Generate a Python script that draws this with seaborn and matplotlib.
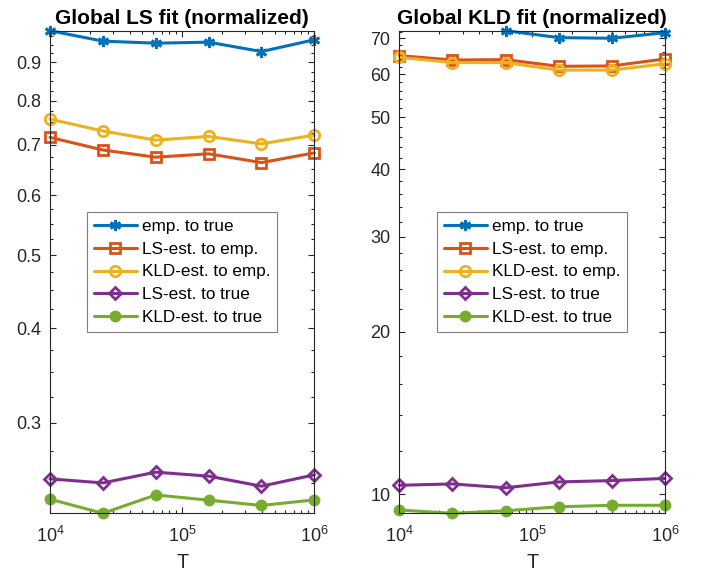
import numpy as np
import pandas as pd
import matplotlib
matplotlib.use("Agg")
import matplotlib.pyplot as plt
import matplotlib.ticker as mticker
import seaborn as sns

# sample sizes (x axis, shared by both panels)
T = [1e4, 2.512e4, 6.310e4, 1.585e5, 3.981e5, 1e6]

series_names = ["emp. to true", "LS-est. to emp.", "KLD-est. to emp.",
                "LS-est. to true", "KLD-est. to true"]

# left panel: global LS fit (normalized)
ls_emp_true = [0.991, 0.960, 0.954, 0.957, 0.930, 0.964]
ls_lsest_emp = [0.716, 0.689, 0.674, 0.681, 0.663, 0.683]
ls_kldest_emp = [0.757, 0.730, 0.710, 0.718, 0.702, 0.721]
ls_lsest_true = [0.2529, 0.2498, 0.2581, 0.2550, 0.2473, 0.2560]
ls_kldest_true = [0.2377, 0.2277, 0.2408, 0.2370, 0.2332, 0.2372]

# right panel: global KLD fit (normalized); first two emp. values are infinite
kld_emp_true = [np.nan, np.nan, 72.3, 70.2, 70.0, 71.7]
kld_lsest_emp = [65.0, 63.8, 63.9, 62.1, 62.2, 64.1]
kld_kldest_emp = [64.5, 63.1, 63.1, 61.1, 61.1, 62.8]
kld_lsest_true = [10.38, 10.44, 10.27, 10.53, 10.59, 10.69]
kld_kldest_true = [9.34, 9.21, 9.31, 9.47, 9.53, 9.53]

colors = ["#0072BD", "#D95319", "#EDB120", "#7E2F8E", "#77AC30"]
markers = [(6, 2, 0), "s", "o", "D", "o"]
msizes = [8, 6.5, 7.5, 6.2, 6.5]
filled = [False, False, False, False, True]

sns.set_theme(style="ticks")
plt.rcParams["font.family"] = ["Liberation Sans", "DejaVu Sans"]
plt.rcParams["mathtext.fontset"] = "custom"
plt.rcParams["mathtext.rm"] = "Liberation Sans"
plt.rcParams["mathtext.it"] = "Liberation Sans:italic"
axcol = "#262626"


def draw_panel(ax, data, title, yticks, minor_step):
    ax.set_xscale("log")
    ax.set_yscale("log")
    for name, vals, c, m, ms, f in zip(series_names, data, colors, markers, msizes, filled):
        df = pd.DataFrame({"T": T, "v": vals}).dropna()
        sns.lineplot(data=df, x="T", y="v", ax=ax, color=c, marker=m, markersize=ms,
                     markeredgewidth=2, markeredgecolor=c,
                     markerfacecolor=c if f else "none",
                     linewidth=2.2, label=name, errorbar=None, clip_on=False)
    allv = np.concatenate([np.asarray(d, dtype=float) for d in data])
    ax.set_xlim(T[0], T[-1])
    ax.set_ylim(np.nanmin(allv), np.nanmax(allv))

    ax.set_title(title, fontsize=15, fontweight="bold", color="black", pad=5)
    ax.set_xlabel("T", fontsize=14.3, color=axcol, labelpad=5)
    ax.set_ylabel("")

    ax.xaxis.set_major_locator(mticker.FixedLocator([1e4, 1e5, 1e6]))
    ax.xaxis.set_major_formatter(mticker.FixedFormatter([r"$10^4$", r"$10^5$", r"$10^6$"]))
    ax.xaxis.set_minor_locator(mticker.LogLocator(base=10, subs=np.arange(2, 10)))
    ax.xaxis.set_minor_formatter(mticker.NullFormatter())

    ax.yaxis.set_major_locator(mticker.FixedLocator(yticks))
    ax.yaxis.set_major_formatter(mticker.FixedFormatter([f"{t:g}" for t in yticks]))
    lo, hi = ax.get_ylim()
    minor = np.arange(np.floor(lo / minor_step) * minor_step, hi + minor_step, minor_step)
    ax.yaxis.set_minor_locator(mticker.FixedLocator(minor))
    ax.yaxis.set_minor_formatter(mticker.NullFormatter())

    ax.tick_params(which="both", direction="in", top=True, right=True,
                   colors=axcol, labelsize=13, width=0.8)
    ax.tick_params(which="major", length=4.5)
    ax.tick_params(which="minor", length=2.5)
    ax.tick_params(axis="y", which="major", pad=6.5)
    ax.tick_params(axis="x", which="major", pad=9)
    for sp in ax.spines.values():
        sp.set_visible(True)
        sp.set_color(axcol)
        sp.set_linewidth(0.8)

    leg = ax.legend(loc="center", fontsize=12.3, frameon=True, fancybox=False,
                    framealpha=1, edgecolor="#7f7f7f", handlelength=2.5,
                    handletextpad=0.3, borderpad=0.4, labelspacing=0.45,
                    numpoints=1)
    leg.get_frame().set_linewidth(0.8)
    for txt in leg.get_texts():
        txt.set_color("black")


fig = plt.figure(figsize=(7.09, 5.81), dpi=100)
bottom = 1 - 513.3 / 581
height = 482.6 / 581
ax1 = fig.add_axes([50 / 709, bottom, 264.3 / 709, height])
ax2 = fig.add_axes([399.3 / 709, bottom, 265.7 / 709, height])

draw_panel(ax1, [ls_emp_true, ls_lsest_emp, ls_kldest_emp, ls_lsest_true, ls_kldest_true],
           "Global LS fit (normalized)", [0.3, 0.4, 0.5, 0.6, 0.7, 0.8, 0.9], 0.025)
draw_panel(ax2, [kld_emp_true, kld_lsest_emp, kld_kldest_emp, kld_lsest_true, kld_kldest_true],
           "Global KLD fit (normalized)", [10, 20, 30, 40, 50, 60, 70], 2)

fig.savefig("out.png", dpi=100)
